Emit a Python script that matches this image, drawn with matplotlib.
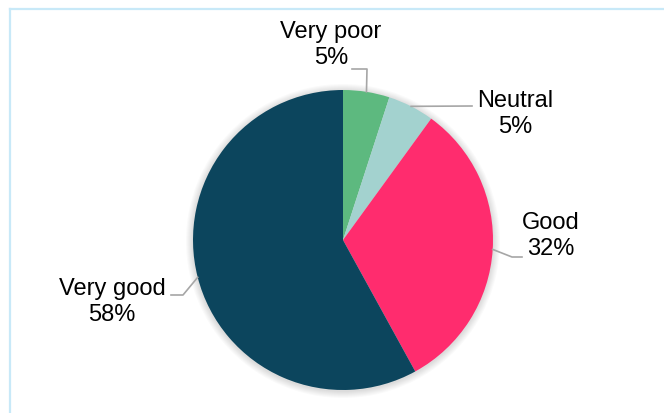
import numpy as np
import matplotlib
matplotlib.use("Agg")
import matplotlib.pyplot as plt
from matplotlib.lines import Line2D
from matplotlib.patches import Circle

# Survey ratings
categories = ["Very poor", "Neutral", "Good", "Very good"]
shares = [5, 5, 32, 58]
colors = ["#5DB97F", "#A3D2CF", "#FF2C6E", "#0C455D"]

W, H = 664, 414
fig = plt.figure(figsize=(W / 100, H / 100), dpi=100)
ax = fig.add_axes([0, 0, 1, 1])

cx, cy, R = 343, 173, 150

# soft shadow behind the pie
for k in range(7, 0, -1):
    ax.add_patch(Circle((cx, cy - 1), R + k, color="black", alpha=0.018, lw=0, zorder=0))

wedges, _ = ax.pie(shares, colors=colors, startangle=90, counterclock=False,
                   center=(cx, cy), radius=R, frame=True,
                   wedgeprops=dict(linewidth=0))
for w in wedges:
    w.set_zorder(1)
    w.set_antialiased(True)

ax.set_xlim(0, W)
ax.set_ylim(0, H)
ax.axis("off")

# label placement: text centre, then leader path from the label towards the slice
label_pos = [(331, 369), (515, 300), (551, 178), (112, 112)]
leader_path = [
    [(352, 344), (367, 344)],
    [(472, 307)],
    [(522, 156), (512, 156)],
    [(171, 118), (183, 118)],
]

font = ["Liberation Sans", "DejaVu Sans"]
for w, name, val, (tx, ty), path in zip(wedges, categories, shares, label_pos, leader_path):
    mid = np.deg2rad((w.theta1 + w.theta2) / 2)
    ex, ey = cx + R * np.cos(mid), cy + R * np.sin(mid)
    pts = path + [(ex, ey)]
    xs = [p[0] for p in pts]
    ys = [p[1] for p in pts]
    ax.add_line(Line2D(xs, ys, color="#A6A6A6", lw=1.2, zorder=2))
    ax.text(tx, ty, f"{name}\n{val}%", ha="center", va="center", fontsize=17,
            family=font, color="black", linespacing=1.18, zorder=3)

# light blue frame
fig.add_artist(Line2D([9.5 / W, 9.5 / W], [0, 1 - 10 / H], transform=fig.transFigure,
                      color="#C8E9F8", lw=1.6))
fig.add_artist(Line2D([9.5 / W, 1], [1 - 10 / H, 1 - 10 / H], transform=fig.transFigure,
                      color="#C8E9F8", lw=1.6))

fig.savefig("out.png", dpi=100, facecolor="white")
